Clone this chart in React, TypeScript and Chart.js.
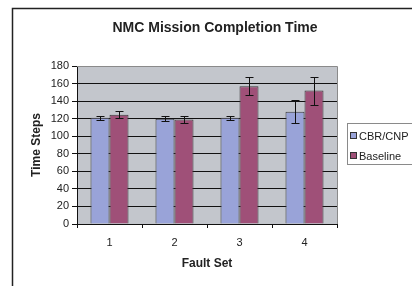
import React, { useEffect, useRef } from "react";
import { Chart, registerables } from "chart.js";

Chart.register(...registerables);

const TITLE = "NMC Mission Completion Time";
const categories = ["1", "2", "3", "4"];
const seriesNames = ["CBR/CNP", "Baseline"];
const cbrValues = [121, 120, 121, 128];
const cbrErrors = [2.5, 3, 2.5, 13];
const baselineValues = [124.5, 119, 157, 152];
const baselineErrors = [4, 4.5, 10, 16];
const yTicks = { min: 0, max: 180, step: 20 };

const FONT = "Arial, 'Liberation Sans', sans-serif";
const CBR_COLOR = "#99A3D8";
const BASE_COLOR = "#9F5078";

const decorPlugin = {
  id: "decor",
  beforeDraw(chart: any) {
    const { ctx, chartArea } = chart;
    ctx.save();
    ctx.fillStyle = "#ffffff";
    ctx.fillRect(0, 0, chart.width, chart.height);
    // plot background
    ctx.fillStyle = "#C3C6CC";
    ctx.fillRect(chartArea.left, chartArea.top, chartArea.right - chartArea.left, chartArea.bottom - chartArea.top);
    // outer frame
    ctx.strokeStyle = "#222";
    ctx.lineWidth = 1.5;
    ctx.beginPath();
    ctx.moveTo(12.5, chart.height);
    ctx.lineTo(12.5, 8.5);
    ctx.lineTo(chart.width, 8.5);
    ctx.stroke();
    // title
    ctx.fillStyle = "#222";
    ctx.font = "bold 14px " + FONT;
    ctx.textAlign = "center";
    ctx.textBaseline = "middle";
    ctx.fillText(TITLE, 215, 28);
    ctx.restore();
  },
  afterDatasetsDraw(chart: any) {
    const { ctx, chartArea } = chart;
    const yScale = chart.scales.y;
    ctx.save();
    // plot border (top/right)
    ctx.strokeStyle = "#8A8A8A";
    ctx.lineWidth = 1;
    ctx.beginPath();
    ctx.moveTo(chartArea.left, Math.round(chartArea.top) + 0.5);
    ctx.lineTo(Math.round(chartArea.right) + 0.5, Math.round(chartArea.top) + 0.5);
    ctx.lineTo(Math.round(chartArea.right) + 0.5, chartArea.bottom);
    ctx.stroke();
    // error bars
    const errs = [cbrErrors, baselineErrors];
    const vals = [cbrValues, baselineValues];
    ctx.strokeStyle = "#111";
    ctx.lineWidth = 1;
    chart.data.datasets.forEach((ds: any, di: number) => {
      const meta = chart.getDatasetMeta(di);
      meta.data.forEach((bar: any, i: number) => {
        const x = Math.round(bar.x) + 0.5;
        const yHi = Math.round(yScale.getPixelForValue(vals[di][i] + errs[di][i])) + 0.5;
        const yLo = Math.round(yScale.getPixelForValue(vals[di][i] - errs[di][i])) + 0.5;
        ctx.beginPath();
        ctx.moveTo(x, yHi);
        ctx.lineTo(x, yLo);
        ctx.moveTo(x - 4, yHi);
        ctx.lineTo(x + 4, yHi);
        ctx.moveTo(x - 4, yLo);
        ctx.lineTo(x + 4, yLo);
        ctx.stroke();
      });
    });
    // legend
    const bx = 347.5, by = 123.5, bw = 70, bh = 41;
    ctx.fillStyle = "#fff";
    ctx.fillRect(bx, by, bw, bh);
    ctx.strokeStyle = "#8A8A8A";
    ctx.strokeRect(bx, by, bw, bh);
    const colors = [CBR_COLOR, BASE_COLOR];
    const ys = [136, 156];
    ctx.font = "11px " + FONT;
    ctx.textAlign = "left";
    ctx.textBaseline = "middle";
    seriesNames.forEach((name, i) => {
      ctx.fillStyle = colors[i];
      ctx.fillRect(351, ys[i] - 3, 6, 6);
      ctx.strokeStyle = "#333";
      ctx.strokeRect(350.5, ys[i] - 3.5, 6, 6);
      ctx.fillStyle = "#222";
      ctx.fillText(name, 359, ys[i] + 0.5);
    });
    ctx.restore();
  },
};

export default function App() {
  const ref = useRef<HTMLCanvasElement>(null);
  useEffect(() => {
    document.body.style.margin = "0";
    const chart = new Chart(ref.current!, {
      type: "bar",
      data: {
        labels: categories,
        datasets: [
          {
            label: seriesNames[0],
            data: cbrValues,
            backgroundColor: CBR_COLOR,
            borderColor: "#3A3A3A",
            borderWidth: 1,
          },
          {
            label: seriesNames[1],
            data: baselineValues,
            backgroundColor: BASE_COLOR,
            borderColor: "#3A3A3A",
            borderWidth: 1,
          },
        ],
      },
      options: {
        responsive: false,
        animation: false,
        layout: { padding: { left: 20, right: 75, top: 66, bottom: 0 } },
        datasets: { bar: { categoryPercentage: 0.585, barPercentage: 1 } },
        plugins: {
          legend: { display: false },
          title: { display: false },
          tooltip: { enabled: false },
        },
        scales: {
          x: {
            offset: true,
            afterFit: (s: any) => { s.height = 62; },
            grid: {
              offset: true,
              drawOnChartArea: false,
              drawTicks: true,
              tickLength: 4,
              color: "#111",
            },
            border: { color: "#111", width: 1 },
            ticks: { color: "#222", font: { family: FONT, size: 11 }, padding: 8 },
            title: {
              display: true,
              text: "Fault Set",
              color: "#222",
              font: { family: FONT, size: 12, weight: "bold" },
              padding: { top: 0, bottom: 15 },
            },
          },
          y: {
            min: yTicks.min,
            max: yTicks.max,
            afterFit: (s: any) => { s.width = 57; },
            ticks: {
              stepSize: yTicks.step,
              color: "#222",
              font: { family: FONT, size: 11 },
              padding: 3,
            },
            grid: {
              color: (c: any) => (c.tick && c.tick.value === yTicks.max ? "rgba(0,0,0,0)" : "#111"),
              tickColor: "#111",
              tickLength: 5,
              lineWidth: 1,
            },
            border: { color: "#111", width: 1 },
            title: {
              display: true,
              text: "Time Steps",
              color: "#222",
              font: { family: FONT, size: 12, weight: "bold" },
              padding: { top: 9, bottom: 0 },
            },
          },
        },
      },
      plugins: [decorPlugin],
    });
    return () => chart.destroy();
  }, []);
  return (
    <div style={{ width: 412, height: 286 }}>
      <canvas ref={ref} width={412} height={286} />
    </div>
  );
}
